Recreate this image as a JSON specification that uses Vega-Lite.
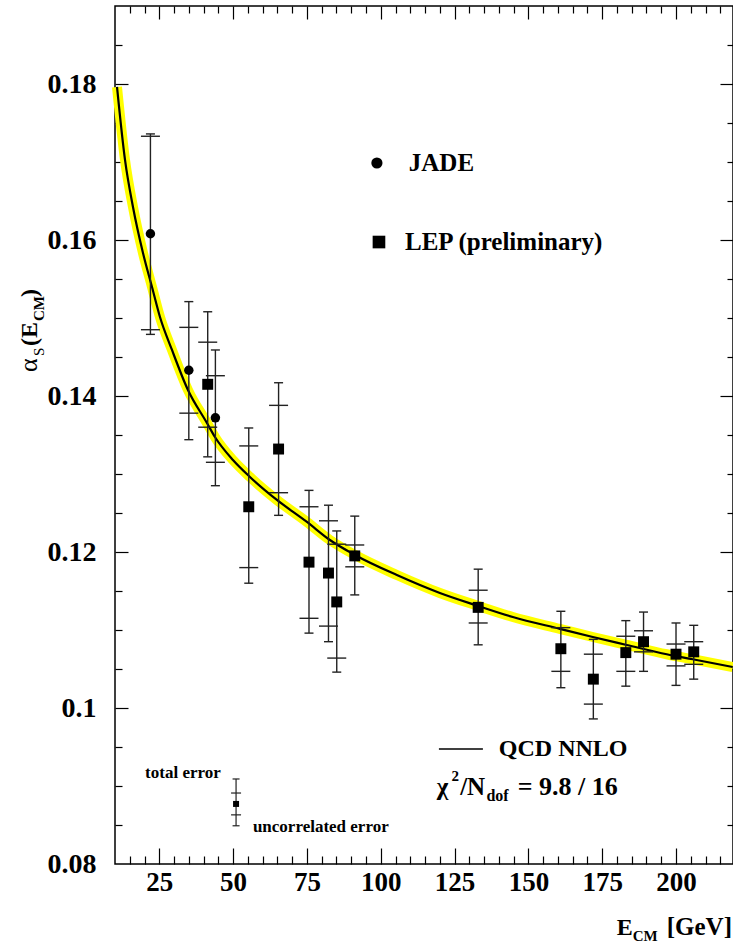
{
  "$schema": "https://vega.github.io/schema/vega-lite/v6.json",
  "width": 618,
  "height": 858,
  "autosize": "none",
  "padding": {"left": 115, "top": 6, "right": 0, "bottom": 82},
  "background": "white",
  "config": {
    "view": {"stroke": "black", "strokeWidth": 1.5},
    "font": "'Liberation Serif', 'Times New Roman', Times, serif",
    "text": {"font": "'Liberation Serif', 'Times New Roman', Times, serif", "color": "black"},
    "axis": {"grid": false, "domain": false, "labelFont": "'Liberation Serif', 'Times New Roman', Times, serif"}
  },
  "data": {"values": [{}]},
  "datasets": {
    "points": [
      {"series": "JADE", "E": 22, "alpha": 0.1608, "tlo": 0.1479, "thi": 0.1736, "ulo": 0.1485, "uhi": 0.1733},
      {"series": "JADE", "E": 35, "alpha": 0.1433, "tlo": 0.1344, "thi": 0.1521, "ulo": 0.1378, "uhi": 0.1488},
      {"series": "JADE", "E": 44, "alpha": 0.1372, "tlo": 0.1285, "thi": 0.1459, "ulo": 0.1315, "uhi": 0.1426},
      {"series": "LEP", "E": 41.4, "alpha": 0.1415, "tlo": 0.1322, "thi": 0.1508, "ulo": 0.1360, "uhi": 0.1469},
      {"series": "LEP", "E": 55.3, "alpha": 0.1258, "tlo": 0.1160, "thi": 0.1359, "ulo": 0.1180, "uhi": 0.1336},
      {"series": "LEP", "E": 65.4, "alpha": 0.1332, "tlo": 0.1247, "thi": 0.1417, "ulo": 0.1276, "uhi": 0.1388},
      {"series": "LEP", "E": 75.7, "alpha": 0.1187, "tlo": 0.1096, "thi": 0.1279, "ulo": 0.1115, "uhi": 0.1258},
      {"series": "LEP", "E": 82.3, "alpha": 0.1173, "tlo": 0.1085, "thi": 0.1260, "ulo": 0.1105, "uhi": 0.1240},
      {"series": "LEP", "E": 85.1, "alpha": 0.1136, "tlo": 0.1046, "thi": 0.1227, "ulo": 0.1064, "uhi": 0.1210},
      {"series": "LEP", "E": 91.2, "alpha": 0.1195, "tlo": 0.1145, "thi": 0.1246, "ulo": 0.1181, "uhi": 0.1209},
      {"series": "LEP", "E": 133, "alpha": 0.1129, "tlo": 0.1081, "thi": 0.1178, "ulo": 0.1109, "uhi": 0.1151},
      {"series": "LEP", "E": 161, "alpha": 0.1076, "tlo": 0.1026, "thi": 0.1124, "ulo": 0.1047, "uhi": 0.1103},
      {"series": "LEP", "E": 172, "alpha": 0.1037, "tlo": 0.0986, "thi": 0.1088, "ulo": 0.1005, "uhi": 0.1069},
      {"series": "LEP", "E": 183, "alpha": 0.1071, "tlo": 0.1028, "thi": 0.1112, "ulo": 0.1047, "uhi": 0.1092},
      {"series": "LEP", "E": 189, "alpha": 0.1085, "tlo": 0.1047, "thi": 0.1123, "ulo": 0.1072, "uhi": 0.1099},
      {"series": "LEP", "E": 200, "alpha": 0.1069, "tlo": 0.1029, "thi": 0.1109, "ulo": 0.1054, "uhi": 0.1082},
      {"series": "LEP", "E": 206, "alpha": 0.1072, "tlo": 0.1037, "thi": 0.1106, "ulo": 0.1056, "uhi": 0.1085}
    ],
    "example": [
      {"E": 51, "alpha": 0.0877, "tlo": 0.0849, "thi": 0.0909, "ulo": 0.0863, "uhi": 0.0891}
    ],
    "qcd": [
      {"E": 10.68, "alpha": 0.17962},
      {"E": 13.39, "alpha": 0.17026},
      {"E": 16.09, "alpha": 0.16423},
      {"E": 19.48, "alpha": 0.15833},
      {"E": 22.53, "alpha": 0.15397},
      {"E": 25.23, "alpha": 0.15013},
      {"E": 29.3, "alpha": 0.1459},
      {"E": 34.71, "alpha": 0.14077},
      {"E": 41.14, "alpha": 0.13654},
      {"E": 43.85, "alpha": 0.13474},
      {"E": 49.95, "alpha": 0.13179},
      {"E": 55.7, "alpha": 0.12962},
      {"E": 64.84, "alpha": 0.12667},
      {"E": 75.0, "alpha": 0.12385},
      {"E": 82.78, "alpha": 0.12154},
      {"E": 91.25, "alpha": 0.11962},
      {"E": 105.46, "alpha": 0.11705},
      {"E": 120.02, "alpha": 0.11475},
      {"E": 132.88, "alpha": 0.1131},
      {"E": 144.73, "alpha": 0.11167},
      {"E": 160.64, "alpha": 0.11015},
      {"E": 171.81, "alpha": 0.1091},
      {"E": 183.32, "alpha": 0.10808},
      {"E": 196.86, "alpha": 0.10689},
      {"E": 205.66, "alpha": 0.10625},
      {"E": 219.2, "alpha": 0.10526}
    ]
  },
  "resolve": {"axis": {"x": "independent", "y": "independent"}},
  "layer": [
    {
      "data": {"name": "points"},
      "mark": {"type": "point", "opacity": 0},
      "encoding": {
        "x": {"field": "E", "type": "quantitative", "scale": {"domain": [10, 219.3], "nice": false, "zero": false},
          "axis": {"orient": "bottom", "values": [25, 50, 75, 100, 125, 150, 175, 200], "ticks": false, "tickSize": 0, "domain": false, "labelFontWeight": "bold", "labelFontSize": 27, "labelColor": "black", "labelPadding": 5, "labelFlush": false, "labelOverlap": false, "title": null}},
        "y": {"field": "alpha", "type": "quantitative", "scale": {"domain": [0.08, 0.19], "nice": false, "zero": false},
          "axis": {"orient": "left", "values": [0.08, 0.1, 0.12, 0.14, 0.16, 0.18], "format": "~g", "ticks": false, "tickSize": 0, "domain": false, "labelFontWeight": "bold", "labelFontSize": 28, "labelColor": "black", "labelPadding": 19, "labelFlush": false, "labelOverlap": false, "title": null}}
      }
    },
    {
      "data": {"name": "points"},
      "mark": {"type": "point", "opacity": 0},
      "encoding": {
        "x": {"field": "E", "type": "quantitative",
          "axis": {"orient": "bottom", "values": [15, 20, 25, 30, 35, 40, 45, 50, 55, 60, 65, 70, 75, 80, 85, 90, 95, 100, 105, 110, 115, 120, 125, 130, 135, 140, 145, 150, 155, 160, 165, 170, 175, 180, 185, 190, 195, 200, 205, 210, 215], "labels": false, "domain": false, "tickColor": "black", "tickWidth": 1.2, "tickSize": {"condition": {"test": "datum.value % 25 === 0", "value": -16}, "value": -8}, "title": null}},
        "y": {"field": "alpha", "type": "quantitative",
          "axis": {"orient": "left", "values": [0.085, 0.09, 0.095, 0.1, 0.105, 0.11, 0.115, 0.12, 0.125, 0.13, 0.135, 0.14, 0.145, 0.15, 0.155, 0.16, 0.165, 0.17, 0.175, 0.18, 0.185], "labels": false, "domain": false, "tickColor": "black", "tickWidth": 1.2, "tickSize": {"condition": {"test": "round(datum.value * 1000) % 20 === 0", "value": -13}, "value": -7}, "title": null}}
      }
    },
    {
      "data": {"name": "points"},
      "mark": {"type": "point", "opacity": 0},
      "encoding": {
        "x": {"field": "E", "type": "quantitative",
          "axis": {"orient": "top", "values": [15, 20, 25, 30, 35, 40, 45, 50, 55, 60, 65, 70, 75, 80, 85, 90, 95, 100, 105, 110, 115, 120, 125, 130, 135, 140, 145, 150, 155, 160, 165, 170, 175, 180, 185, 190, 195, 200, 205, 210, 215], "labels": false, "domain": false, "tickColor": "black", "tickWidth": 1.2, "tickSize": {"condition": {"test": "datum.value % 25 === 0", "value": -13}, "value": -7}, "title": null}},
        "y": {"field": "alpha", "type": "quantitative",
          "axis": {"orient": "right", "values": [0.085, 0.09, 0.095, 0.1, 0.105, 0.11, 0.115, 0.12, 0.125, 0.13, 0.135, 0.14, 0.145, 0.15, 0.155, 0.16, 0.165, 0.17, 0.175, 0.18, 0.185], "labels": false, "domain": false, "tickColor": "black", "tickWidth": 1.2, "tickSize": {"condition": {"test": "round(datum.value * 1000) % 20 === 0", "value": -13}, "value": -6}, "title": null}}
      }
    },
    {
      "data": {"name": "qcd"},
      "mark": {"type": "line", "color": "#ffff00", "strokeWidth": 10, "interpolate": "monotone", "strokeCap": "butt"},
      "encoding": {
        "x": {"field": "E", "type": "quantitative", "axis": null},
        "y": {"field": "alpha", "type": "quantitative", "axis": null}
      }
    },
    {
      "data": {"name": "qcd"},
      "mark": {"type": "line", "color": "black", "strokeWidth": 2.2, "interpolate": "monotone"},
      "encoding": {
        "x": {"field": "E", "type": "quantitative", "axis": null},
        "y": {"field": "alpha", "type": "quantitative", "axis": null}
      }
    },
    {
      "data": {"name": "points"},
      "mark": {"type": "rule", "color": "#222222", "strokeWidth": 1.4},
      "encoding": {
        "x": {"field": "E", "type": "quantitative", "axis": null},
        "y": {"field": "tlo", "type": "quantitative", "axis": null},
        "y2": {"field": "thi"}
      }
    },
    {
      "data": {"name": "points"},
      "mark": {"type": "point", "shape": "M-1,0H1", "filled": false, "opacity": 1, "color": "#222222", "strokeWidth": 1.4, "size": 81},
      "encoding": {
        "x": {"field": "E", "type": "quantitative", "axis": null},
        "y": {"field": "tlo", "type": "quantitative", "axis": null}
      }
    },
    {
      "data": {"name": "points"},
      "mark": {"type": "point", "shape": "M-1,0H1", "filled": false, "opacity": 1, "color": "#222222", "strokeWidth": 1.4, "size": 81},
      "encoding": {
        "x": {"field": "E", "type": "quantitative", "axis": null},
        "y": {"field": "thi", "type": "quantitative", "axis": null}
      }
    },
    {
      "data": {"name": "points"},
      "mark": {"type": "point", "shape": "M-1,0H1", "filled": false, "opacity": 1, "color": "#222222", "strokeWidth": 1.4, "size": 361},
      "encoding": {
        "x": {"field": "E", "type": "quantitative", "axis": null},
        "y": {"field": "ulo", "type": "quantitative", "axis": null}
      }
    },
    {
      "data": {"name": "points"},
      "mark": {"type": "point", "shape": "M-1,0H1", "filled": false, "opacity": 1, "color": "#222222", "strokeWidth": 1.4, "size": 361},
      "encoding": {
        "x": {"field": "E", "type": "quantitative", "axis": null},
        "y": {"field": "uhi", "type": "quantitative", "axis": null}
      }
    },
    {
      "data": {"name": "points"},
      "mark": {"type": "point", "filled": true, "opacity": 1, "color": "black"},
      "encoding": {
        "x": {"field": "E", "type": "quantitative", "axis": null},
        "y": {"field": "alpha", "type": "quantitative", "axis": null},
        "shape": {"field": "series", "type": "nominal", "scale": {"domain": ["JADE", "LEP"], "range": ["circle", "square"]}, "legend": null},
        "size": {"field": "series", "type": "nominal", "scale": {"domain": ["JADE", "LEP"], "range": [90, 120]}, "legend": null}
      }
    },
    {
      "data": {"name": "example"},
      "mark": {"type": "rule", "color": "#222222", "strokeWidth": 1.2},
      "encoding": {
        "x": {"field": "E", "type": "quantitative", "axis": null},
        "y": {"field": "tlo", "type": "quantitative", "axis": null},
        "y2": {"field": "thi"}
      }
    },
    {
      "data": {"name": "example"},
      "mark": {"type": "point", "shape": "M-1,0H1", "filled": false, "opacity": 1, "color": "#222222", "strokeWidth": 1.2, "size": 49},
      "encoding": {
        "x": {"field": "E", "type": "quantitative", "axis": null},
        "y": {"field": "tlo", "type": "quantitative", "axis": null}
      }
    },
    {
      "data": {"name": "example"},
      "mark": {"type": "point", "shape": "M-1,0H1", "filled": false, "opacity": 1, "color": "#222222", "strokeWidth": 1.2, "size": 49},
      "encoding": {
        "x": {"field": "E", "type": "quantitative", "axis": null},
        "y": {"field": "thi", "type": "quantitative", "axis": null}
      }
    },
    {
      "data": {"name": "example"},
      "mark": {"type": "point", "shape": "M-1,0H1", "filled": false, "opacity": 1, "color": "#222222", "strokeWidth": 1.2, "size": 100},
      "encoding": {
        "x": {"field": "E", "type": "quantitative", "axis": null},
        "y": {"field": "ulo", "type": "quantitative", "axis": null}
      }
    },
    {
      "data": {"name": "example"},
      "mark": {"type": "point", "shape": "M-1,0H1", "filled": false, "opacity": 1, "color": "#222222", "strokeWidth": 1.2, "size": 100},
      "encoding": {
        "x": {"field": "E", "type": "quantitative", "axis": null},
        "y": {"field": "uhi", "type": "quantitative", "axis": null}
      }
    },
    {
      "data": {"name": "example"},
      "mark": {"type": "point", "shape": "square", "filled": true, "opacity": 1, "color": "black", "size": 36},
      "encoding": {
        "x": {"field": "E", "type": "quantitative", "axis": null},
        "y": {"field": "alpha", "type": "quantitative", "axis": null}
      }
    },
    {
      "mark": {"type": "point", "shape": "circle", "filled": true, "opacity": 1, "color": "black", "size": 125},
      "encoding": {"x": {"datum": 98.7, "type": "quantitative", "axis": null}, "y": {"datum": 0.16987, "type": "quantitative", "axis": null}}
    },
    {
      "mark": {"type": "point", "shape": "square", "filled": true, "opacity": 1, "color": "black", "size": 160},
      "encoding": {"x": {"datum": 99.4, "type": "quantitative", "axis": null}, "y": {"datum": 0.15974, "type": "quantitative", "axis": null}}
    },
    {
      "mark": {"type": "rule", "color": "black", "strokeWidth": 1.5},
      "encoding": {"x": {"datum": 119.7, "type": "quantitative", "axis": null}, "x2": {"datum": 134.6}, "y": {"datum": 0.09474, "type": "quantitative", "axis": null}}
    },
    {
      "mark": {"type": "text", "align": "left", "baseline": "middle", "fontWeight": "bold", "fontSize": 25},
      "encoding": {"x": {"datum": 109.5, "type": "quantitative", "axis": null}, "y": {"datum": 0.16987, "type": "quantitative", "axis": null}, "text": {"value": "JADE"}}
    },
    {
      "mark": {"type": "text", "align": "left", "baseline": "middle", "fontWeight": "bold", "fontSize": 25},
      "encoding": {"x": {"datum": 108.2, "type": "quantitative", "axis": null}, "y": {"datum": 0.15974, "type": "quantitative", "axis": null}, "text": {"value": "LEP (preliminary)"}}
    },
    {
      "mark": {"type": "text", "align": "left", "baseline": "middle", "fontWeight": "bold", "fontSize": 24},
      "encoding": {"x": {"datum": 140.0, "type": "quantitative", "axis": null}, "y": {"datum": 0.09474, "type": "quantitative", "axis": null}, "text": {"value": "QCD NNLO"}}
    },
    {
      "mark": {"type": "text", "align": "left", "baseline": "alphabetic", "fontWeight": "bold", "fontSize": 25},
      "encoding": {"x": {"datum": 119.0, "type": "quantitative", "axis": null}, "y": {"datum": 0.08885, "type": "quantitative", "axis": null}, "text": {"value": "χ"}}
    },
    {
      "mark": {"type": "text", "align": "left", "baseline": "alphabetic", "fontWeight": "bold", "fontSize": 15},
      "encoding": {"x": {"datum": 124.0, "type": "quantitative", "axis": null}, "y": {"datum": 0.09064, "type": "quantitative", "axis": null}, "text": {"value": "2"}}
    },
    {
      "mark": {"type": "text", "align": "left", "baseline": "alphabetic", "fontWeight": "bold", "fontSize": 25},
      "encoding": {"x": {"datum": 126.9, "type": "quantitative", "axis": null}, "y": {"datum": 0.08885, "type": "quantitative", "axis": null}, "text": {"value": "/N"}}
    },
    {
      "mark": {"type": "text", "align": "left", "baseline": "alphabetic", "fontWeight": "bold", "fontSize": 16},
      "encoding": {"x": {"datum": 135.8, "type": "quantitative", "axis": null}, "y": {"datum": 0.08808, "type": "quantitative", "axis": null}, "text": {"value": "dof"}}
    },
    {
      "mark": {"type": "text", "align": "left", "baseline": "alphabetic", "fontWeight": "bold", "fontSize": 26},
      "encoding": {"x": {"datum": 146.4, "type": "quantitative", "axis": null}, "y": {"datum": 0.08885, "type": "quantitative", "axis": null}, "text": {"value": "= 9.8 / 16"}}
    },
    {
      "mark": {"type": "text", "align": "left", "baseline": "middle", "fontWeight": "bold", "fontSize": 17},
      "encoding": {"x": {"datum": 20.2, "type": "quantitative", "axis": null}, "y": {"datum": 0.09167, "type": "quantitative", "axis": null}, "text": {"value": "total error"}}
    },
    {
      "mark": {"type": "text", "align": "left", "baseline": "middle", "fontWeight": "bold", "fontSize": 17},
      "encoding": {"x": {"datum": 56.7, "type": "quantitative", "axis": null}, "y": {"datum": 0.08474, "type": "quantitative", "axis": null}, "text": {"value": "uncorrelated error"}}
    },
    {
      "mark": {"type": "text", "align": "left", "baseline": "alphabetic", "fontWeight": "bold", "fontSize": 24},
      "encoding": {"x": {"datum": 179.94, "type": "quantitative", "axis": null}, "y": {"datum": 0.0709, "type": "quantitative", "axis": null}, "text": {"value": "E"}}
    },
    {
      "mark": {"type": "text", "align": "left", "baseline": "alphabetic", "fontWeight": "bold", "fontSize": 15},
      "encoding": {"x": {"datum": 185.35, "type": "quantitative", "axis": null}, "y": {"datum": 0.07013, "type": "quantitative", "axis": null}, "text": {"value": "CM"}}
    },
    {
      "mark": {"type": "text", "align": "left", "baseline": "alphabetic", "fontWeight": "bold", "fontSize": 25},
      "encoding": {"x": {"datum": 196.86, "type": "quantitative", "axis": null}, "y": {"datum": 0.0709, "type": "quantitative", "axis": null}, "text": {"value": "[GeV]"}}
    },
    {
      "mark": {"type": "text", "align": "left", "baseline": "alphabetic", "angle": 270, "fontSize": 26},
      "encoding": {"x": {"datum": -16.4, "type": "quantitative", "axis": null}, "y": {"datum": 0.14308, "type": "quantitative", "axis": null}, "text": {"value": "α"}}
    },
    {
      "mark": {"type": "text", "align": "left", "baseline": "alphabetic", "angle": 270, "fontSize": 15},
      "encoding": {"x": {"datum": -14.04, "type": "quantitative", "axis": null}, "y": {"datum": 0.14513, "type": "quantitative", "axis": null}, "text": {"value": "S"}}
    },
    {
      "mark": {"type": "text", "align": "left", "baseline": "alphabetic", "angle": 270, "fontWeight": "bold", "fontSize": 24},
      "encoding": {"x": {"datum": -16.4, "type": "quantitative", "axis": null}, "y": {"datum": 0.14641, "type": "quantitative", "axis": null}, "text": {"value": "(E"}}
    },
    {
      "mark": {"type": "text", "align": "left", "baseline": "alphabetic", "angle": 270, "fontWeight": "bold", "fontSize": 15},
      "encoding": {"x": {"datum": -14.04, "type": "quantitative", "axis": null}, "y": {"datum": 0.14962, "type": "quantitative", "axis": null}, "text": {"value": "CM"}}
    },
    {
      "mark": {"type": "text", "align": "left", "baseline": "alphabetic", "angle": 270, "fontWeight": "bold", "fontSize": 24},
      "encoding": {"x": {"datum": -16.4, "type": "quantitative", "axis": null}, "y": {"datum": 0.15269, "type": "quantitative", "axis": null}, "text": {"value": ")"}}
    }
  ]
}
